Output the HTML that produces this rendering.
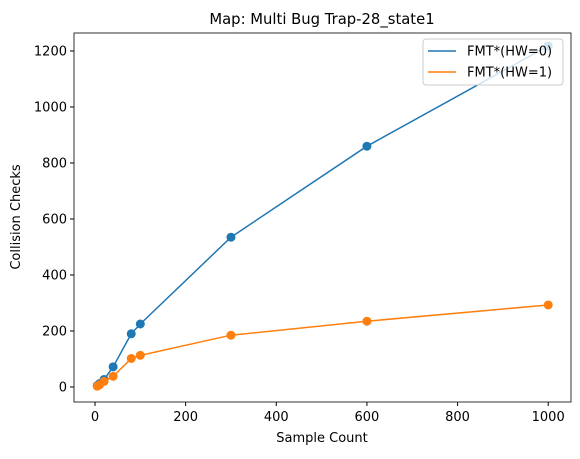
<!DOCTYPE html>
<html><head><meta charset="utf-8"><style>
body{margin:0;background:#fff;font-family:"DejaVu Sans","Liberation Sans",sans-serif;}
svg text{font-family:"DejaVu Sans","Liberation Sans",sans-serif;fill:#000;}
</style></head><body>
<svg id="c" width="580" height="455"></svg>
<script>
const xs=[5,10,20,40,80,100,300,600,1000];
const hw0=[5,12,27,72,190,225,535,860,1218];
const hw1=[3,8,20,38,102,113,185,235,293];
const xTicks=[0,200,400,600,800,1000];
const yTicks=[0,200,400,600,800,1000,1200];
const L=74,R=571,T=33,B=402;
const X=v=>95+v*0.4532, Y=v=>387-v*0.2800;
const s=document.getElementById('c');
const NS='http://www.w3.org/2000/svg';
function mk(t,a,p){const e=document.createElementNS(NS,t);for(const k in a)e.setAttribute(k,a[k]);(p||s).appendChild(e);return e;}
let e;
e=mk('text',{x:322,y:24,'font-size':14.8,'text-anchor':'middle'});e.textContent='Map: Multi Bug Trap-28_state1';


xTicks.forEach(v=>{mk('line',{x1:X(v),x2:X(v),y1:B,y2:B+4,stroke:'#000'});
 e=mk('text',{x:X(v),y:B+19,'font-size':13,'text-anchor':'middle'});e.textContent=v;
 
 });
yTicks.forEach(v=>{mk('line',{x1:L-4,x2:L,y1:Y(v),y2:Y(v),stroke:'#000'});
 e=mk('text',{x:L-7,y:Y(v)+4.5,'font-size':13,'text-anchor':'end'});e.textContent=v;
 
 });
e=mk('text',{x:322,y:442,'font-size':13,'text-anchor':'middle'});e.textContent='Sample Count';


e=mk('text',{x:20,y:217,'font-size':13,'text-anchor':'middle',transform:'rotate(-90 20 217)'});e.textContent='Collision Checks';


function series(d,c,n){
 const g=mk('g',{});
 
 
 mk('polyline',{points:xs.map((x,i)=>X(x)+','+Y(d[i])).join(' '),fill:'none',stroke:c,'stroke-width':1.5},g);
 xs.forEach((x,i)=>mk('circle',{cx:X(x),cy:Y(d[i]),r:4.5,fill:c},g));
}
series(hw0,'#1f77b4','series-hw0');
series(hw1,'#ff7f0e','series-hw1');
mk('rect',{x:L,y:T,width:R-L,height:B-T,fill:'none',stroke:'#000','stroke-width':0.8});
const lg=mk('g',{});


mk('rect',{x:423,y:39,width:140,height:46,rx:3,fill:'#fff','fill-opacity':0.8,stroke:'#ccc'},lg);
[['FMT*(HW=0)','#1f77b4'],['FMT*(HW=1)','#ff7f0e']].forEach((l,i)=>{
 const y=51+i*21;
 mk('line',{x1:428,x2:456,y1:y,y2:y,stroke:l[1],'stroke-width':1.5},lg);
 const t=mk('text',{x:467,y:y+4.5,'font-size':13},lg);t.textContent=l[0];
 
 
});
</script>
</body></html>
